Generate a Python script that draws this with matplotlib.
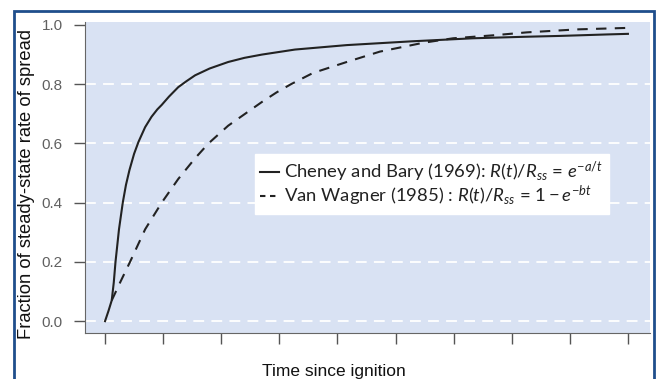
import matplotlib.pyplot as plt
from matplotlib.lines import Line2D
from matplotlib.patches import Rectangle

# curves (time in tick units, fraction of steady-state ROS)
t_cheney = [0, 0.06, 0.115, 0.15, 0.18, 0.24, 0.305, 0.36, 0.42, 0.50, 0.575,
            0.69, 0.80, 0.90, 0.975, 1.10, 1.26, 1.40, 1.55, 1.80, 2.12, 2.40,
            2.70, 3.27, 4.16, 5.3, 6.33, 7.2, 7.83, 8.64, 9.0]
y_cheney = [0, 0.035, 0.07, 0.13, 0.20, 0.31, 0.40, 0.46, 0.51, 0.565, 0.605,
            0.655, 0.69, 0.715, 0.73, 0.758, 0.79, 0.81, 0.83, 0.853, 0.875, 0.889,
            0.90, 0.917, 0.932, 0.945, 0.955, 0.96, 0.963, 0.968, 0.97]

t_vanwagner = [0.115, 0.27, 0.43, 0.69, 0.975, 1.26, 1.55, 1.78, 2.12, 2.41, 2.70,
               2.95, 3.2, 3.58, 4.16, 4.73, 5.48, 5.99, 6.68, 7.26, 8.12, 8.98]
y_vanwagner = [0.07, 0.135, 0.20, 0.31, 0.40, 0.48, 0.55, 0.60, 0.66, 0.70, 0.74,
               0.772, 0.80, 0.838, 0.875, 0.91, 0.94, 0.955, 0.965, 0.975, 0.985, 0.99]

xticks = list(range(10))
yticks = [0.0, 0.2, 0.4, 0.6, 0.8, 1.0]
grid_y = [0.0, 0.2, 0.4, 0.6, 0.8]

label_cheney = r"Cheney and Bary (1969): $R(t)/R_{ss}$ = $e^{-a/t}$"
label_vw = r"Van Wagner (1985) : $R(t)/R_{ss}$ = $1 - e^{-bt}$"

plt.rcParams['font.family'] = ['Liberation Sans', 'DejaVu Sans']
plt.rcParams['mathtext.fontset'] = 'custom'
plt.rcParams['mathtext.rm'] = 'Lato'
plt.rcParams['mathtext.it'] = 'Lato:italic'

fig = plt.figure(figsize=(6.59, 3.79), dpi=100)
ax = fig.add_axes([85 / 659, 1 - 333 / 379, 565 / 659, 311 / 379])
ax.set_facecolor('#d9e2f3')

for g in grid_y:
    ax.axhline(g, color='white', lw=1.3, dashes=(6, 4), zorder=1)

ax.plot(t_cheney, y_cheney, color='#222222', lw=1.5, zorder=3)
ax.plot(t_vanwagner, y_vanwagner, color='#222222', lw=1.5, dashes=(5, 4), zorder=3)

ax.set_xlim(-0.345, 9.38)
ax.set_ylim(-0.04, 1.01)
ax.set_xticks(xticks)
ax.set_xticklabels([])
ax.set_yticks(yticks)
ax.set_yticklabels([f"{v:.1f}" for v in yticks])
ax.tick_params(axis='both', color='#555555', length=8, width=1)
ax.tick_params(axis='y', labelcolor='#606060', labelsize=11, pad=8)
for s in ['top', 'right']:
    ax.spines[s].set_visible(False)
for s in ['left', 'bottom']:
    ax.spines[s].set_color('#666666')

ax.set_ylabel("Fraction of steady-state rate of spread", fontsize=13.2, color='#111111')
ax.yaxis.set_label_coords(-0.088, 0.48)
ax.set_xlabel("Time since ignition", fontsize=12.5, color='#111111')
ax.xaxis.set_label_coords(0.44, -0.1)

# legend handles (short dashes so "- -" shows like the original)
h_solid = Line2D([], [], color='#222222', lw=1.5)
h_dash = Line2D([], [], color='#222222', lw=1.5, dashes=(2.6, 2.2))
leg = ax.legend([h_solid, h_dash], [label_cheney, label_vw],
                loc='upper left', bbox_to_anchor=(0.30, 0.575), borderaxespad=0,
                frameon=True, fancybox=False, framealpha=1, edgecolor='white',
                handlelength=1.0, handletextpad=0.3, labelspacing=0.02,
                prop={'family': 'Lato', 'size': 13.3}, borderpad=0.3)
for txt in leg.get_texts():
    txt.set_color('#222222')

# dark blue frame around the figure
fig.patches.append(Rectangle((14 / 659, -0.05), 640 / 659, 1.05 - 11 / 379,
                             transform=fig.transFigure, fill=False,
                             edgecolor='#1f4e8c', lw=2, clip_on=False))

fig.savefig('out.png', dpi=100)
